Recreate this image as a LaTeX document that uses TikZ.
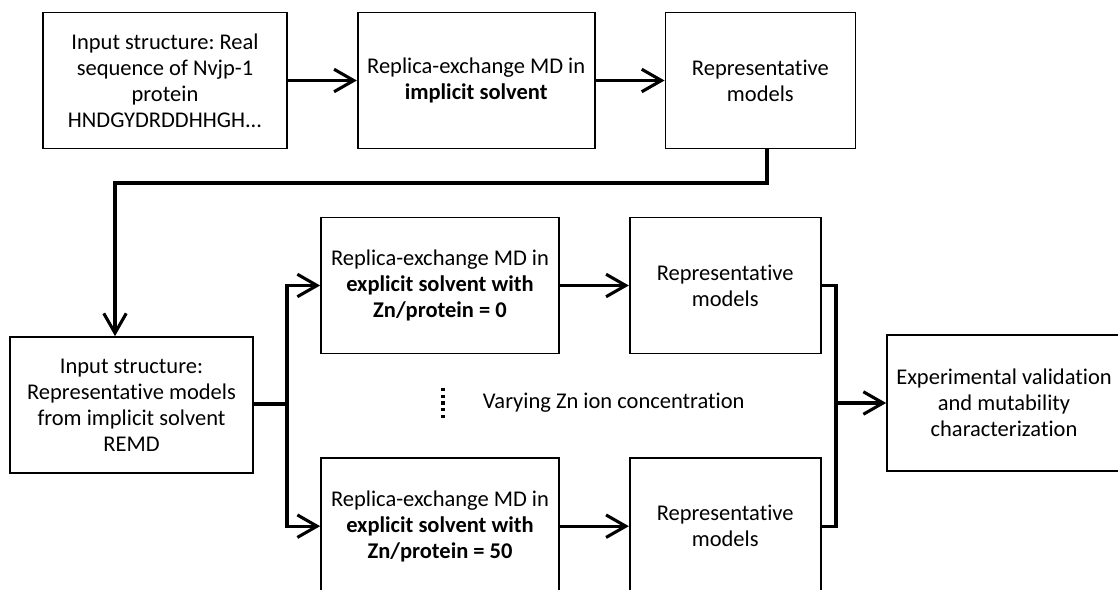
\documentclass[tikz,border=0pt]{standalone}
\usepackage{fontspec}
\setmainfont{Carlito}[Ligatures={NoCommon}]
\frenchspacing
\usepackage{tikz}
\usetikzlibrary{positioning, calc, arrows.meta}

\begin{document}
\begin{tikzpicture}[
    node distance=1.725cm,
    block/.style={rectangle, draw, line width=1.2pt, minimum height=3.4cm, align=center, inner sep=2pt, font=\fontsize{16}{18.4}\selectfont},
    arrow/.style={-{Straight Barb[length=14pt, width=16pt]}, line width=2.2pt},
    line/.style={line width=2.2pt}
]
\useasboundingbox (0,0) rectangle (27.95,-14.725);
\clip (0,0) rectangle (27.95,-14.725);

% Implicit solvent REMD
\node[block, minimum width=6.1cm] (seq) at (4.125,-2.0125) {Input structure: Real\\sequence of Nvjp-1\\protein\\HNDGYDRDDHHGH...};
\node[block, minimum width=5.925cm, right=of seq] (implicit) {Replica-exchange MD in\\\textbf{implicit solvent}};
\node[block, minimum width=4.75cm, right=of implicit] (repA) {Representative\\models};

% Explicit solvent REMD
\node[block, minimum width=6.075cm] (input) at (3.2875,-10.125) {Input structure:\\Representative models\\from implicit solvent\\REMD};
\node[block, minimum width=5.95cm] (zn0) at (11.0,-7.1375) {Replica-exchange MD in\\\textbf{explicit solvent with}\\\textbf{Zn/protein = 0}};
\node[block, minimum width=5.95cm, below=2.575cm of zn0] (zn50) {Replica-exchange MD in\\\textbf{explicit solvent with}\\\textbf{Zn/protein = 50}};
\node[block, minimum width=4.775cm, right=of zn0] (repB) {Representative\\models};
\node[block, minimum width=4.775cm, right=of zn50] (repC) {Representative\\models};
\node[block, minimum width=5.85cm] (valid) at (25.1,-10.075) {Experimental validation\\and mutability\\characterization};

% Zn concentration
\coordinate (dotTop) at (11.075,-9.7);
\coordinate (dotBot) at (11.075,-10.45);
\draw[line, dash pattern=on 2.2pt off 2.6pt] (dotTop) -- (dotBot);
\node[anchor=west, font=\fontsize{16}{18.4}\selectfont] (vary) at (11.95,-10.075) {Varying Zn ion concentration};

% Arrows
\coordinate (tr) at (19.175,-4.575);
\coordinate (tl) at (2.875,-4.575);
\coordinate (split) at (7.175,-10.1);
\coordinate (merge) at (20.9,-10.075);
\draw[arrow] (seq) -- (implicit);
\draw[arrow] (implicit) -- (repA);
\draw[arrow] (repA.south -| tr) -- (tr) -- (tl) -- (tl |- input.north);
\draw[line] (input.east |- split) -- (split);
\draw[arrow] (split) |- (zn0.west);
\draw[arrow] (split) |- (zn50.west);
\draw[arrow] (zn0) -- (repB);
\draw[arrow] (zn50) -- (repC);
\draw[line] (repB.east) -| (merge) |- (repC.east);
\draw[arrow] (merge) -- (valid.west);

\end{tikzpicture}
\end{document}
